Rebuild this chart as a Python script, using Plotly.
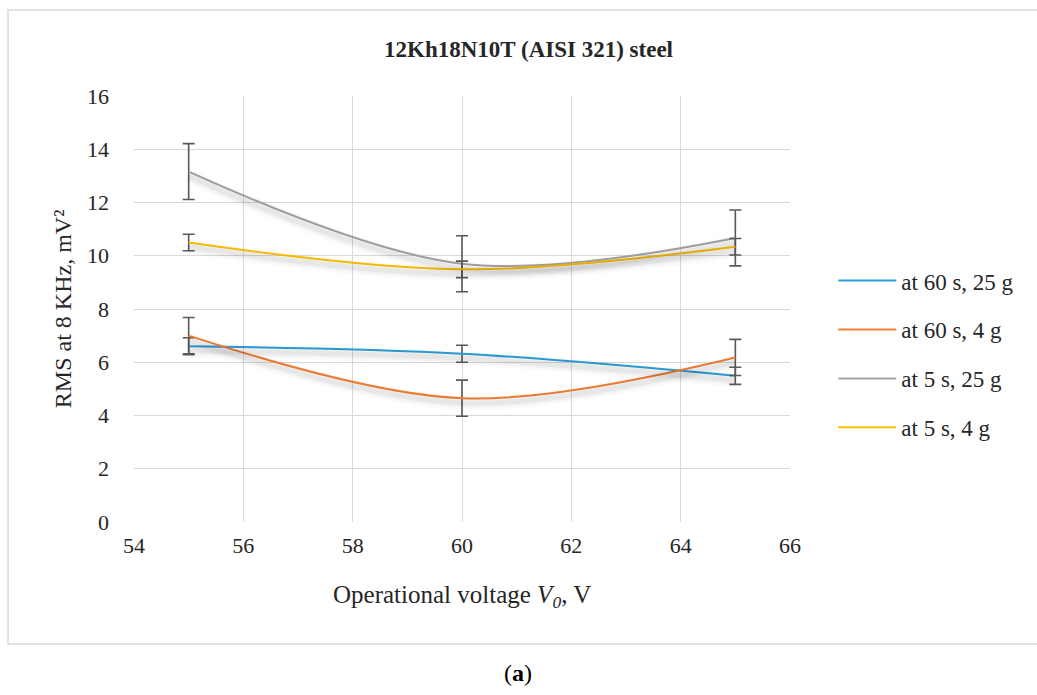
import plotly.graph_objects as go

# Operational voltage, V
voltage = [55, 60, 65]

# RMS at 8 kHz, mV^2, per treatment regime
rms_60s_25g = [6.60, 6.32, 5.49]
rms_60s_4g = [7.00, 4.65, 6.18]
rms_5s_25g = [13.16, 9.70, 10.67]
rms_5s_4g = [10.50, 9.49, 10.34]

# Error bar half-widths
err_60s_25g = [0.32, 0.32, 0.32]
err_60s_4g = [0.68, 0.68, 0.68]
err_5s_25g = [1.05, 1.05, 1.05]
err_5s_4g = [0.31, 0.31, 0.31]

series_names = ["at 60 s, 25 g", "at 60 s, 4 g", "at 5 s, 25 g", "at 5 s, 4 g"]
series_vals = [rms_60s_25g, rms_60s_4g, rms_5s_25g, rms_5s_4g]
series_errs = [err_60s_25g, err_60s_4g, err_5s_25g, err_5s_4g]
colors = ["#2B9FD9", "#F47F35", "#A5A5A5", "#FFC000"]

FONT = "Liberation Serif"
GRID = "#D9D9D9"
TXT = "#262626"

fig = go.Figure()

# soft drop shadow beneath each curve, drawn on an overlay axis shifted a few pixels down
for vals in series_vals:
    for w, a in [(14, 0.02), (9, 0.03), (5, 0.045)]:
        fig.add_trace(go.Scatter(
            x=voltage, y=vals, mode="lines",
            line=dict(color=f"rgba(0,0,0,{a})", width=w, shape="spline", smoothing=1),
            yaxis="y2", showlegend=False, hoverinfo="skip",
        ))

for name, vals, errs, col in zip(series_names, series_vals, series_errs, colors):
    fig.add_trace(go.Scatter(
        x=voltage, y=vals, mode="lines", name=name, legendgroup=name,
        line=dict(color=col, width=2, shape="spline", smoothing=1),
        error_y=dict(type="data", array=errs, visible=True,
                     color="#595959", thickness=1.6, width=6),
    ))

fig.update_layout(
    width=1037, height=695,
    margin=dict(l=134, r=247, t=96, b=173),
    paper_bgcolor="white", plot_bgcolor="white",
    font=dict(family=FONT, size=22, color=TXT),
    showlegend=True,
    legend=dict(
        x=1.066, y=0.617, xanchor="left", yanchor="top",
        font=dict(family=FONT, size=23, color=TXT),
        tracegroupgap=16, itemwidth=58, bgcolor="rgba(0,0,0,0)",
    ),
    xaxis=dict(
        range=[54, 66], tickvals=[54, 56, 58, 60, 62, 64, 66],
        showgrid=True, gridcolor=GRID, gridwidth=1,
        zeroline=False, showline=False, ticks="",
        tickfont=dict(family=FONT, size=22, color=TXT),
        ticklabelstandoff=8,
    ),
    yaxis=dict(
        range=[0, 16], tickvals=[0, 2, 4, 6, 8, 10, 12, 14, 16],
        showgrid=True, gridcolor=GRID, gridwidth=1,
        zeroline=False, showline=False, ticks="",
        tickfont=dict(family=FONT, size=22, color=TXT),
        ticklabelstandoff=24,
    ),
    yaxis2=dict(
        overlaying="y", range=[0.17, 16.17], visible=False,
        showgrid=False, zeroline=False,
    ),
)

# outer chart frame
fig.add_shape(type="rect", xref="paper", yref="paper",
              x0=-0.192, x1=1.40, y0=-0.2864, y1=1.2019,
              line=dict(color=GRID, width=1.5), fillcolor="rgba(0,0,0,0)",
              layer="below")

fig.add_annotation(text="<b>12Kh18N10T (AISI 321) steel</b>", xref="paper", yref="paper",
                   x=0.602, y=1.108, showarrow=False, xanchor="center", yanchor="middle",
                   font=dict(family=FONT, size=23, color=TXT))

fig.add_annotation(text="Operational voltage <i>V</i><sub><i>0</i></sub>, V", xref="paper", yref="paper",
                   x=0.5, y=-0.176, showarrow=False, xanchor="center", yanchor="middle",
                   font=dict(family=FONT, size=25, color=TXT))

fig.add_annotation(text="RMS at 8 KHz, mV²", xref="paper", yref="paper",
                   x=-0.108, y=0.50, showarrow=False, xanchor="center", yanchor="middle",
                   textangle=-90, font=dict(family=FONT, size=24, color=TXT))

fig.add_annotation(text="(<b>a</b>)", xref="paper", yref="paper",
                   x=(518 - 134) / 656, y=-0.354, showarrow=False,
                   xanchor="center", yanchor="middle",
                   font=dict(family=FONT, size=24, color="#000000"))

fig.write_html("out.html")
